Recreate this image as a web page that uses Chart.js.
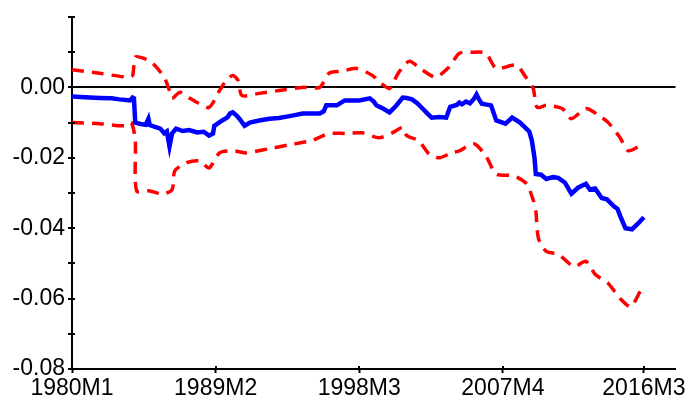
<!DOCTYPE html>
<html>
<head>
<meta charset="utf-8">
<script src="https://cdn.jsdelivr.net/npm/chart.js@4/dist/chart.umd.min.js"></script>
<style>
  html, body { margin: 0; padding: 0; background: #fff; }
  canvas { display: block; }
</style>
</head>
<body>
<canvas id="myChart" width="688" height="405"></canvas>
<script>
// month index: 0 = 1980M1
const xTicks = [0, 109, 218, 327, 434];
const yTickLabels = ['0.00', '-0.02', '-0.04', '-0.06', '-0.08'];

const estMonths = [0, 10, 21, 30, 36, 44, 46, 47, 48, 52, 56, 58, 59, 62, 67, 70, 72, 74, 76, 79, 84, 89, 95, 100, 104, 107, 108, 114, 118, 120, 122, 125, 127, 131, 135, 142, 150, 157, 163, 170, 175, 188, 191, 193, 201, 207, 212, 218, 226, 229, 231, 236, 241, 246, 251, 254, 258, 262, 266, 270, 273, 279, 284, 287, 292, 294, 296, 299, 302, 305, 307, 309, 311, 318, 322, 329, 334, 340, 344, 347, 349, 351, 352, 356, 360, 365, 369, 374, 379, 384, 390, 393, 397, 402, 406, 411, 414, 416, 420, 425, 430, 434];
const estValues = [-0.0026, -0.0028, -0.003, -0.0031, -0.0034, -0.0037, -0.0029, -0.0031, -0.0100, -0.0104, -0.0106, -0.0089, -0.0107, -0.0111, -0.0117, -0.013, -0.0125, -0.0168, -0.0130, -0.0117, -0.0124, -0.0121, -0.0128, -0.0126, -0.0137, -0.0131, -0.0109, -0.0094, -0.0085, -0.0074, -0.0071, -0.0080, -0.0089, -0.0109, -0.0100, -0.0094, -0.0089, -0.0087, -0.0083, -0.0078, -0.0074, -0.0074, -0.0068, -0.0051, -0.0051, -0.0037, -0.0037, -0.0037, -0.0031, -0.0040, -0.0051, -0.0060, -0.0071, -0.0052, -0.0029, -0.0030, -0.0034, -0.0045, -0.0060, -0.0075, -0.0086, -0.0084, -0.0086, -0.0055, -0.0050, -0.0043, -0.0048, -0.0040, -0.0045, -0.0033, -0.0020, -0.0035, -0.0046, -0.0051, -0.0094, -0.0103, -0.0086, -0.0100, -0.0114, -0.0125, -0.0151, -0.0200, -0.0246, -0.0248, -0.0260, -0.0255, -0.0257, -0.0270, -0.0302, -0.0285, -0.0274, -0.0290, -0.0287, -0.0314, -0.0318, -0.0337, -0.0345, -0.0365, -0.0400, -0.0403, -0.0385, -0.0369];

const upMonths = [0, 21, 42, 46, 48, 54, 61, 70, 74, 76, 82, 89, 95, 104, 112, 117, 122, 126, 129, 142, 157, 175, 188, 195, 205, 216, 228, 235, 241, 248, 256, 266, 276, 286, 294, 304, 314, 322, 337, 345, 350, 353, 360, 372, 379, 390, 400, 407, 416, 422, 431, 434];
const upValues = [0.0050, 0.0040, 0.0029, 0.0034, 0.0086, 0.0083, 0.0069, 0.0029, -0.0010, -0.0031, -0.0014, -0.0030, -0.0043, -0.0057, -0.0009, 0.0020, 0.0034, 0.0020, -0.0023, -0.0017, -0.0009, 0.0000, 0.0000, 0.0040, 0.0046, 0.0054, 0.0034, 0.0010, -0.0003, 0.0043, 0.0074, 0.0049, 0.0029, 0.0057, 0.0097, 0.0100, 0.0097, 0.0054, 0.0063, 0.0026, -0.0003, -0.0057, -0.0051, -0.0060, -0.0089, -0.0060, -0.0080, -0.0100, -0.0143, -0.0180, -0.0166, -0.0160];

const loMonths = [0, 21, 40, 45, 48, 49, 59, 69, 76, 78, 87, 97, 104, 112, 122, 132, 150, 165, 182, 195, 208, 220, 233, 243, 251, 254, 263, 271, 279, 288, 294, 305, 314, 322, 335, 345, 350, 352, 354, 360, 369, 381, 390, 397, 407, 416, 424, 432, 434];
const loValues = [-0.0100, -0.0103, -0.0109, -0.0100, -0.0150, -0.0294, -0.0294, -0.0303, -0.0290, -0.0237, -0.0214, -0.0209, -0.0229, -0.0186, -0.0180, -0.0186, -0.0174, -0.0163, -0.0151, -0.0131, -0.0131, -0.0129, -0.0143, -0.0129, -0.0114, -0.0137, -0.0151, -0.0189, -0.0200, -0.0186, -0.0180, -0.0160, -0.0194, -0.0246, -0.0251, -0.0274, -0.0320, -0.0351, -0.0429, -0.0466, -0.0474, -0.0509, -0.0494, -0.0531, -0.0557, -0.0600, -0.0623, -0.0574, -0.0565];

const toPoints = (xs, ys) => xs.map((m, i) => ({ x: m, y: ys[i] }));
const monthLabel = (m) => `${1980 + Math.floor(m / 12)}M${(m % 12) + 1}`;

// small tick stubs that poke into the plot area, like the original
const innerTicks = {
  id: 'innerTicks',
  afterDraw(chart) {
    const { ctx, scales: { x, y }, chartArea } = chart;
    ctx.save();
    ctx.strokeStyle = '#000';
    ctx.lineWidth = 2;
    ctx.beginPath();
    y.ticks.forEach((t) => {
      const py = Math.round(y.getPixelForValue(t.value));
      ctx.moveTo(chartArea.left, py);
      ctx.lineTo(chartArea.left + 3, py);
    });
    x.ticks.forEach((t) => {
      const px = Math.round(x.getPixelForValue(t.value));
      ctx.moveTo(px, chartArea.bottom);
      ctx.lineTo(px, chartArea.bottom - 3);
    });
    ctx.stroke();
    ctx.restore();
  },
};

const ctx = document.getElementById('myChart').getContext('2d');

new Chart(ctx, {
  type: 'line',
  data: {
    datasets: [
      {
        label: 'estimate',
        data: toPoints(estMonths, estValues),
        borderColor: '#0000ff',
        borderWidth: 4.5,
        pointRadius: 0,
        tension: 0,
      },
      {
        label: 'upper',
        data: toPoints(upMonths, upValues),
        borderColor: '#ff0000',
        borderWidth: 3.5,
        borderDash: [12, 8],
        pointRadius: 0,
        tension: 0.25,
      },
      {
        label: 'lower',
        data: toPoints(loMonths, loValues),
        borderColor: '#ff0000',
        borderWidth: 3.5,
        borderDash: [12, 8],
        pointRadius: 0,
        tension: 0.25,
      },
    ],
  },
  options: {
    responsive: false,
    animation: false,
    devicePixelRatio: 1,
    layout: {
      padding: { left: 0, right: 11, top: 17, bottom: 0 },
    },
    plugins: {
      legend: { display: false },
      tooltip: { enabled: false },
    },
    scales: {
      x: {
        type: 'linear',
        min: 0,
        max: 458,
        afterBuildTicks: (scale) => {
          scale.ticks = xTicks.map((v) => ({ value: v }));
        },
        afterFit: (scale) => {
          scale.height = 36;
        },
        ticks: {
          autoSkip: false,
          maxRotation: 0,
          padding: 2,
          color: '#000',
          font: { family: 'Liberation Sans', size: 23 },
          callback: (v) => monthLabel(v),
        },
        grid: {
          drawOnChartArea: false,
          tickLength: 4,
          tickWidth: 2,
          tickColor: '#000',
        },
        border: { color: '#000', width: 2 },
      },
      y: {
        min: -0.08,
        max: 0.02,
        afterBuildTicks: (scale) => {
          const t = [];
          for (let i = 0; i <= 10; i++) t.push({ value: 0.02 - i * 0.01 });
          scale.ticks = t;
        },
        afterFit: (scale) => {
          scale.width = 72;
        },
        ticks: {
          autoSkip: false,
          padding: 3,
          color: '#000',
          font: { family: 'Liberation Sans', size: 23 },
          callback: (v) => {
            const k = Math.round(-v * 50);
            if (Math.abs(-v * 50 - k) > 1e-6 || k < 0) return '';
            return yTickLabels[k];
          },
        },
        grid: {
          drawOnChartArea: true,
          color: (c) => (c.tick && Math.abs(c.tick.value) < 1e-9 ? '#000' : 'rgba(0,0,0,0)'),
          lineWidth: 2,
          tickLength: 4,
          tickWidth: 2,
          tickColor: '#000',
        },
        border: { color: '#000', width: 2 },
      },
    },
  },
  plugins: [innerTicks],
});
</script>
</body>
</html>
